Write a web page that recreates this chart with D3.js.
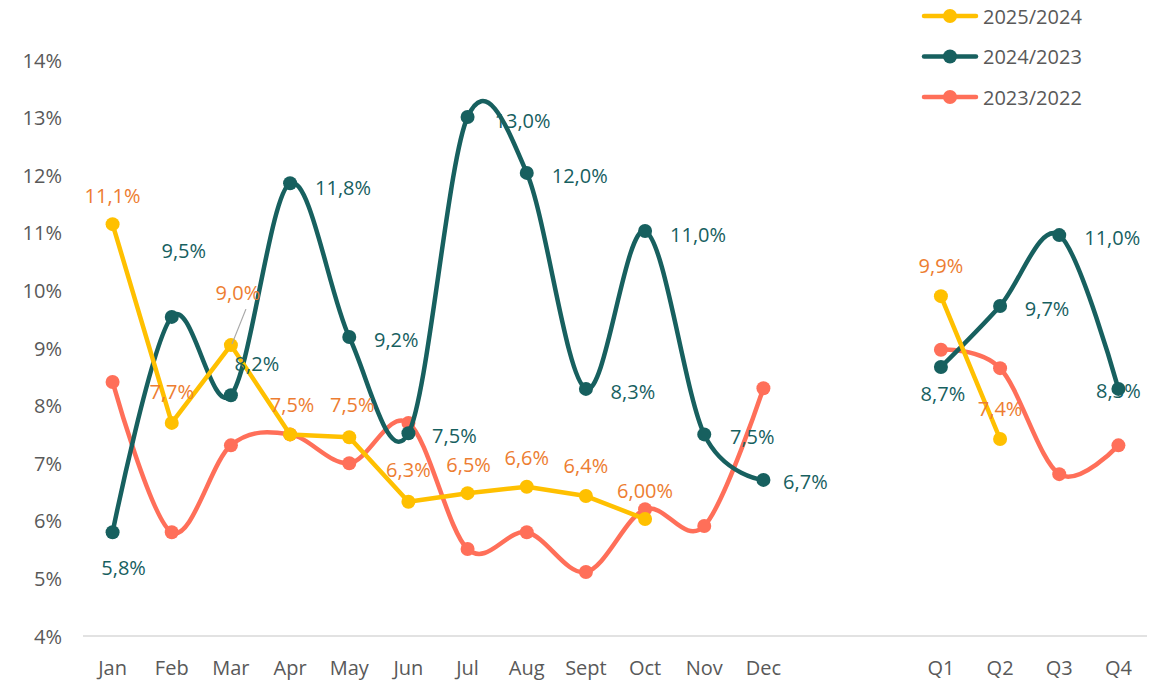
<!DOCTYPE html>
<html>
<head>
<meta charset="utf-8">
<script src="https://cdn.jsdelivr.net/npm/d3@7"></script>
<style>
  html, body { margin: 0; padding: 0; background: #fff; }
  svg { display: block; font-family: "Open Sans", Lato, sans-serif; }
</style>
</head>
<body>
<svg id="chart" width="1176" height="681"></svg>
<script>
// ---- DATA ----
const categories = ["Jan","Feb","Mar","Apr","May","Jun","Jul","Aug","Sept","Oct","Nov","Dec","_gap1","_gap2","Q1","Q2","Q3","Q4"];
const yTicks = [4,5,6,7,8,9,10,11,12,13,14];
const seriesNames = ["2025/2024","2024/2023","2023/2022"];

const v2025 = [11.15,7.70,9.05,7.50,7.45,6.33,6.48,6.59,6.43,6.03,null,null,null,null,9.90,7.42,null,null];
const v2024 = [5.80,9.54,8.18,11.86,9.19,7.52,13.01,12.04,8.29,11.03,7.50,6.71,null,null,8.67,9.73,10.96,8.29];
const v2023 = [8.41,5.80,7.31,7.50,7.00,7.70,5.51,5.80,5.11,6.20,5.91,8.30,null,null,8.97,8.65,6.81,7.31];

const l2025 = ["11,1%","7,7%","9,0%","7,5%","7,5%","6,3%","6,5%","6,6%","6,4%","6,00%",null,null,null,null,"9,9%","7,4%",null,null];
const l2024 = ["5,8%","9,5%","8,2%","11,8%","9,2%","7,5%","13,0%","12,0%","8,3%","11,0%","7,5%","6,7%",null,null,"8,7%","9,7%","11,0%","8,3%"];

// label placement (dx, dy relative to point)
const p2025 = [[0,-29],[0,-31],[7,-53],[2,-30],[3,-33],[0,-32],[1,-29],[0,-29],[0,-31],[0,-29],null,null,null,null,[0,-31],[0,-31],null,null];
const p2024 = [[11,35],[12,-66],[26,-32],[53,4],[47,2],[46,2],[55,3],[53,3],[47,3],[53,3],[48,2],[42,2],null,null,[2,26],[47,3],[53,2],[0,2]];

// ---- CHART ----
const svg = d3.select("#chart");
const colors = { y: "#FFC000", t: "#17605F", s: "#FF6F59" };
const labelOrange = "#ED7D31";
const axisGrey = "#595959";
const fs = 20;

const x = d3.scalePoint().domain(categories).range([83, 1148]).padding(0.5);
const y = d3.scaleLinear().domain([4, 14]).range([636, 60]);

// baseline
svg.append("line")
  .attr("x1", 83).attr("x2", 1147)
  .attr("y1", y(4)).attr("y2", y(4))
  .attr("stroke", "#D9D9D9").attr("stroke-width", 1.3);

// y axis labels
svg.append("g").selectAll("text").data(yTicks).join("text")
  .attr("x", 62).attr("y", d => y(d))
  .attr("text-anchor", "end").attr("dominant-baseline", "central")
  .attr("fill", axisGrey).attr("font-size", fs)
  .text(d => d + "%");

// x axis labels
svg.append("g").selectAll("text").data(categories.filter(c => !c.startsWith("_"))).join("text")
  .attr("x", d => x(d)).attr("y", 667)
  .attr("text-anchor", "middle").attr("dominant-baseline", "central")
  .attr("fill", axisGrey).attr("font-size", fs)
  .text(d => d);

function segments(vals) {
  const pts = vals.map((v, i) => ({ c: categories[i], v, i }));
  const months = pts.slice(0, 12).filter(p => p.v != null);
  const quarters = pts.slice(14).filter(p => p.v != null);
  return [months, quarters];
}

function drawSeries(vals, color, curve) {
  const line = d3.line().x(d => x(d.c)).y(d => y(d.v)).curve(curve);
  const g = svg.append("g");
  segments(vals).forEach(seg => {
    g.append("path").attr("d", line(seg))
      .attr("fill", "none").attr("stroke", color)
      .attr("stroke-width", 4.5).attr("stroke-linejoin", "round").attr("stroke-linecap", "round");
  });
  g.selectAll("circle").data(vals.map((v, i) => ({ c: categories[i], v })).filter(d => d.v != null))
    .join("circle")
    .attr("cx", d => x(d.c)).attr("cy", d => y(d.v)).attr("r", 7)
    .attr("fill", color);
}

drawSeries(v2023, colors.s, d3.curveCardinal.tension(0));
drawSeries(v2024, colors.t, d3.curveCardinal.tension(0));
drawSeries(v2025, colors.y, d3.curveLinear);

// leader line for Mar 9,0%
svg.append("line")
  .attr("x1", x("Mar") + 15).attr("y1", y(v2025[2]) - 36)
  .attr("x2", x("Mar") + 1).attr("y2", y(v2025[2]) - 1)
  .attr("stroke", "#A6A6A6").attr("stroke-width", 1.2);

function drawLabels(vals, labels, place, color) {
  const data = vals.map((v, i) => ({ c: categories[i], v, t: labels[i], p: place[i] })).filter(d => d.v != null && d.t);
  svg.append("g").selectAll("text").data(data).join("text")
    .attr("x", d => x(d.c) + d.p[0]).attr("y", d => y(d.v) + d.p[1])
    .attr("text-anchor", "middle").attr("dominant-baseline", "central")
    .attr("fill", color).attr("font-size", fs)
    .text(d => d.t);
}
drawLabels(v2025, l2025, p2025, labelOrange);
drawLabels(v2024, l2024, p2024, colors.t);

// legend
const legend = svg.append("g");
const legendColors = [colors.y, colors.t, colors.s];
seriesNames.forEach((name, i) => {
  const ly = 16 + i * 40.5;
  legend.append("line").attr("x1", 924).attr("x2", 976).attr("y1", ly).attr("y2", ly)
    .attr("stroke", legendColors[i]).attr("stroke-width", 4.5).attr("stroke-linecap", "round");
  legend.append("circle").attr("cx", 950).attr("cy", ly).attr("r", 7).attr("fill", legendColors[i]);
  legend.append("text").attr("x", 983).attr("y", ly).attr("dominant-baseline", "central")
    .attr("fill", axisGrey).attr("font-size", fs).text(name);
});
</script>
</body>
</html>
